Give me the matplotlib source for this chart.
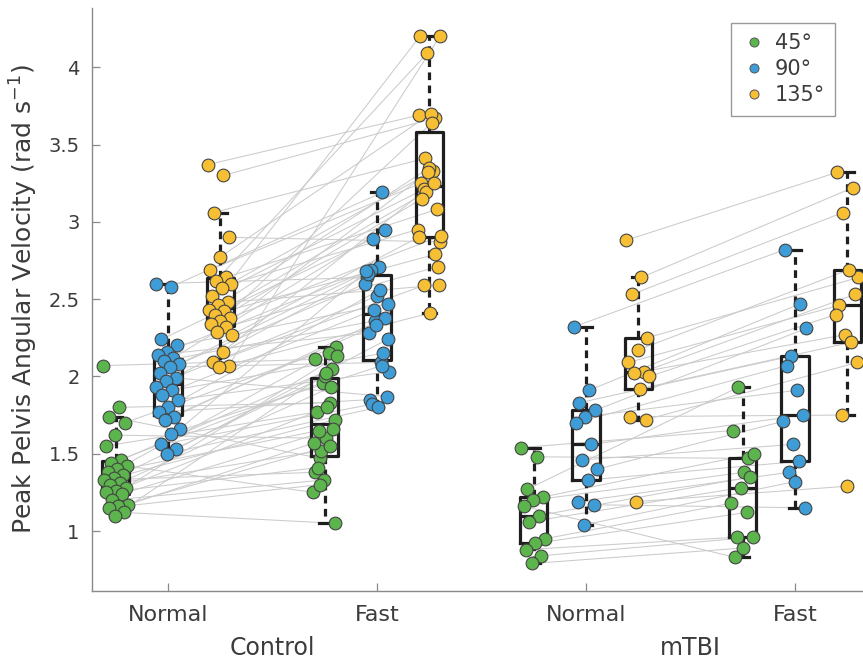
import matplotlib
matplotlib.use("Agg")
import matplotlib.pyplot as plt
import numpy as np
from matplotlib.lines import Line2D

# subject-ordered values (rad/s); index i in Normal pairs with index i in Fast
ctrl_normal_45 = [2.07, 1.80, 1.74, 1.70, 1.62, 1.55, 1.46, 1.44, 1.42, 1.40, 1.38, 1.36, 1.34,
                  1.33, 1.31, 1.30, 1.28, 1.26, 1.25, 1.24, 1.20, 1.17, 1.16, 1.15, 1.12, 1.10]
ctrl_fast_45 = [2.11, 1.83, 1.47, 2.19, 1.60, 1.77, 2.05, 1.96, 1.25, 2.15, 1.65, 1.72, 2.00,
                1.38, 1.93, 1.52, 2.13, 1.80, 1.41, 1.66, 1.33, 1.57, 1.55, 1.30, 1.05, 2.02]
ctrl_normal_90 = [2.60, 2.58, 2.24, 2.20, 2.16, 2.14, 2.12, 2.10, 2.08, 2.06, 2.02, 1.99, 1.97,
                  1.93, 1.91, 1.88, 1.85, 1.80, 1.77, 1.74, 1.72, 1.66, 1.63, 1.56, 1.53, 1.50]
ctrl_fast_90 = [2.64, 3.19, 2.89, 2.47, 2.71, 2.28, 2.95, 2.36, 2.60, 2.09, 2.69, 1.87, 2.52,
                2.66, 2.15, 2.43, 2.03, 2.56, 1.85, 2.38, 2.33, 2.68, 2.07, 1.82, 2.24, 1.80]
ctrl_normal_135 = [3.37, 3.30, 3.06, 2.90, 2.77, 2.69, 2.64, 2.62, 2.60, 2.57, 2.52, 2.48, 2.46,
                   2.43, 2.42, 2.40, 2.38, 2.36, 2.34, 2.32, 2.29, 2.27, 2.16, 2.09, 2.07, 2.06]
ctrl_fast_135 = [3.69, 3.67, 3.41, 2.87, 3.70, 3.25, 3.08, 4.09, 2.95, 3.33, 3.21, 2.59, 3.35,
                 4.20, 2.79, 3.19, 2.91, 3.64, 3.15, 2.71, 3.32, 2.90, 3.25, 2.59, 4.20, 2.41]

mtbi_normal_45 = [1.54, 1.48, 1.27, 1.22, 1.20, 1.16, 1.10, 1.06, 0.95, 0.92, 0.88, 0.84, 0.79]
mtbi_fast_45 = [1.65, 1.47, 1.93, 1.50, 1.38, 0.83, 1.35, 1.28, 1.18, 1.12, 0.96, 0.96, 0.89]
mtbi_normal_90 = [2.32, 1.91, 1.83, 1.78, 1.74, 1.70, 1.56, 1.46, 1.40, 1.33, 1.19, 1.17, 1.04]
mtbi_fast_90 = [2.82, 2.47, 2.13, 2.31, 1.91, 2.07, 1.75, 1.56, 1.71, 1.45, 1.38, 1.15, 1.32]
mtbi_normal_135 = [2.88, 2.64, 2.53, 2.25, 2.17, 2.09, 2.03, 2.02, 2.00, 1.92, 1.74, 1.72, 1.19]
mtbi_fast_135 = [3.32, 3.22, 3.06, 2.64, 2.69, 2.46, 2.53, 2.27, 2.40, 2.22, 1.75, 2.09, 1.29]

angles = ["45°", "90°", "135°"]
speed_labels = ["Normal", "Fast", "Normal", "Fast"]
group_labels = ["Control", "mTBI"]

colors = ["#5cb44c", "#3e9cd6", "#f7bf33"]
offsets = [-0.25, 0.0, 0.25]

pairs = [
    # (tick for Normal, tick for Fast, [(normal, fast) per angle])
    (1, 2, [(ctrl_normal_45, ctrl_fast_45), (ctrl_normal_90, ctrl_fast_90),
            (ctrl_normal_135, ctrl_fast_135)]),
    (3, 4, [(mtbi_normal_45, mtbi_fast_45), (mtbi_normal_90, mtbi_fast_90),
            (mtbi_normal_135, mtbi_fast_135)]),
]


def jitter(n, phase):
    k = np.arange(n) + phase
    return ((k * 0.618034) % 1.0 - 0.5) * 0.12


fig = plt.figure(figsize=(8.63, 6.64), dpi=100)
ax = fig.add_axes([92 / 863, 73 / 664, 771 / 863, 583 / 664])

text_color = "#3c3c3c"
spine_color = "#8a8a8a"

for pos_n, pos_f, sets in pairs:
    for a, (normal, fast) in enumerate(sets):
        normal = np.asarray(normal)
        fast = np.asarray(fast)
        xn = pos_n + offsets[a] + jitter(len(normal), 0)
        xf = pos_f + offsets[a] + jitter(len(fast), 5)

        for i in range(len(normal)):
            ax.plot([xn[i], xf[i]], [normal[i], fast[i]], color="#cbcbcb", lw=0.75, zorder=1)

        ax.boxplot([normal, fast], positions=[pos_n + offsets[a], pos_f + offsets[a]],
                   widths=0.13, whis=1.5, showfliers=False, capwidths=0.06,
                   boxprops=dict(color="#1e1e1e", lw=2.3),
                   medianprops=dict(color="#1e1e1e", lw=2.3),
                   whiskerprops=dict(color="#1e1e1e", lw=2.3, linestyle=(0, (2.4, 1.7))),
                   capprops=dict(color="#1e1e1e", lw=2.3),
                   zorder=2)

        ax.scatter(xn, normal, s=84, color=colors[a], edgecolor="#444444", lw=0.8, zorder=3)
        ax.scatter(xf, fast, s=84, color=colors[a], edgecolor="#444444", lw=0.8, zorder=3)

ax.set_xlim(0.636, 4.325)
ax.set_ylim(0.612, 4.383)
ax.set_xticks([1, 2, 3, 4])
ax.set_xticklabels(speed_labels)
ax.set_yticks([1, 1.5, 2, 2.5, 3, 3.5, 4])
ax.set_yticklabels(["1", "1.5", "2", "2.5", "3", "3.5", "4"])
ax.tick_params(direction="in", length=6, width=0.9, color=spine_color,
               labelcolor=text_color)
ax.tick_params(axis="y", labelsize=14, pad=9)
ax.tick_params(axis="x", labelsize=16, pad=10)

for side in ["top", "right"]:
    ax.spines[side].set_visible(False)
for side in ["left", "bottom"]:
    ax.spines[side].set_color(spine_color)
    ax.spines[side].set_linewidth(1.0)

ax.set_ylabel("Peak Pelvis Angular Velocity (rad s$^{-1}$)", fontsize=18,
              color=text_color, labelpad=6)

for x, label in zip([1.5, 3.5], group_labels):
    ax.text(x, -0.098, label, transform=ax.get_xaxis_transform(), ha="center", va="center",
            fontsize=17, color=text_color)

handles = [Line2D([], [], marker="o", ls="none", markersize=6.5, markerfacecolor=c,
                  markeredgecolor="#555555", markeredgewidth=0.7) for c in colors]
leg = ax.legend(handles, angles, loc="upper right", bbox_to_anchor=(0.964, 0.975),
                borderaxespad=0, fancybox=False, framealpha=1, fontsize=15,
                handletextpad=0.4, labelspacing=0.3, borderpad=0.5, handlelength=1.2)
leg.get_frame().set_edgecolor("#999999")
leg.get_frame().set_linewidth(1.0)
for t in leg.get_texts():
    t.set_color(text_color)

fig.savefig("out.png", dpi=100)
